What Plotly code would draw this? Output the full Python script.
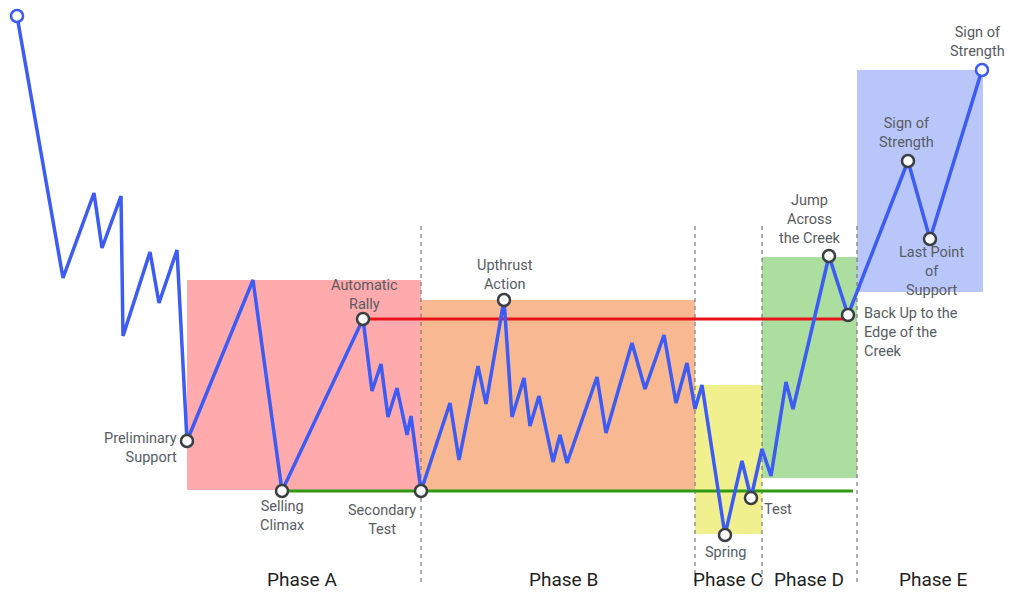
import plotly.graph_objects as go

# ---- data (x = time units, y = price level) ----
path_x = [17, 63, 94, 102, 121, 123, 150, 159, 177, 187, 253, 282, 363, 372, 381, 388, 397, 407, 411, 421,
          450, 459, 478, 486, 504, 512, 524, 530, 539, 553, 560, 567, 597, 606, 632, 645, 664, 676, 687, 695,
          702, 725, 742, 751, 762, 771, 786, 793, 829, 848, 908, 930, 982]
path_y = [585, 323, 408, 353, 405, 265, 349, 298, 351, 160, 321, 110, 282, 210, 237, 184, 213, 166, 185, 110,
          198, 141, 235, 197, 301, 184, 223, 175, 205, 139, 166, 138, 224, 168, 258, 212, 266, 198, 238, 192,
          216, 66, 140, 103, 152, 125, 219, 192, 345, 286, 440, 362, 531]

# key events: index into the path -> label text
event_idx = [9, 11, 12, 19, 24, 41, 43, 48, 49, 50, 51, 52]
event_labels = ["Preliminary<br>Support", "Selling<br>Climax", "Automatic<br>Rally",
                "Secondary<br>Test", "Upthrust<br>Action", "Spring", "Test",
                "Jump<br>Across<br>the Creek", "Back Up to the<br>Edge of the<br>Creek",
                "Sign of<br>Strength", "Last Point<br>of<br>Support", "Sign of<br>Strength"]
# label placement (x, centre y, alignment)
label_pos = [(178, 153, "right"), (282, 85.5, "center"), (364, 306.5, "center"), (382, 81, "center"),
             (505, 326.5, "center"), (725, 49, "center"), (763, 92, "left"), (810, 381.5, "center"),
             (863, 269, "left"), (906, 468, "center"), (931, 330, "center"), (977, 559.5, "center")]

resistance_level = 282
resistance_span = [363, 848]
support_level = 110
support_span = [282, 853]

phases = ["Phase A", "Phase B", "Phase C", "Phase D", "Phase E"]
phase_center = [302, 563, 728, 809, 933]
phase_bounds = [421, 695, 762, 857]
phase_boxes = [  # x0, x1, y0, y1
    (187, 421, 111, 321),
    (421, 695, 111, 301),
    (695, 762, 67, 216),
    (762, 857, 123, 344),
    (857, 983, 309, 531),
]
phase_colors = ["#FFABAD", "#F8B892", "#F0F08E", "#ABDE9F", "#B9C6FA"]

fig = go.Figure()

shapes = []
for (x0, x1, y0, y1), c in zip(phase_boxes, phase_colors):
    shapes.append(dict(type="rect", x0=x0, x1=x1, y0=y0, y1=y1, fillcolor=c,
                       line=dict(width=0), layer="below"))
for b in phase_bounds:
    shapes.append(dict(type="line", x0=b, x1=b, y0=19, y1=379,
                       line=dict(color="#7A7A7A", width=1.2, dash="4px,4px"), layer="below"))

fig.add_trace(go.Scatter(x=resistance_span, y=[resistance_level] * 2, mode="lines",
                         line=dict(color="#E81419", width=3), hoverinfo="skip", showlegend=False))
fig.add_trace(go.Scatter(x=support_span, y=[support_level] * 2, mode="lines",
                         line=dict(color="#2E9A12", width=3), hoverinfo="skip", showlegend=False))
fig.add_trace(go.Scatter(x=path_x, y=path_y, mode="lines",
                         line=dict(color="#3D5BF5", width=3.5), hoverinfo="skip", showlegend=False))
fig.add_trace(go.Scatter(x=[path_x[0], path_x[-1]], y=[path_y[0], path_y[-1]], mode="markers",
                         marker=dict(size=12, color="white", line=dict(color="#3D5BF5", width=2.5)),
                         hoverinfo="skip", showlegend=False))
fig.add_trace(go.Scatter(x=[path_x[i] for i in event_idx[:-1]], y=[path_y[i] for i in event_idx[:-1]],
                         mode="markers",
                         marker=dict(size=12, color="white", line=dict(color="#3A3F44", width=2.5)),
                         hoverinfo="skip", showlegend=False))

annotations = []
for text, (lx, ly, al) in zip(event_labels, label_pos):
    annotations.append(dict(x=lx, y=ly, text=text, showarrow=False,
                            xanchor=al, yanchor="middle", align=al, borderpad=0,
                            font=dict(family="Roboto", size=14.5, color="#575C62")))
for name, cx in zip(phases, phase_center):
    annotations.append(dict(x=cx, y=22, text=name, showarrow=False, xanchor="center", yanchor="middle",
                            font=dict(family="Roboto", size=19, color="#1E1E1E")))

fig.update_layout(
    width=1024, height=601, margin=dict(l=0, r=0, t=0, b=0),
    paper_bgcolor="white", plot_bgcolor="white",
    xaxis=dict(range=[0, 1024], visible=False, fixedrange=True),
    yaxis=dict(range=[0, 601], visible=False, fixedrange=True),
    shapes=shapes, annotations=annotations, showlegend=False,
)
fig.write_html("out.html")
